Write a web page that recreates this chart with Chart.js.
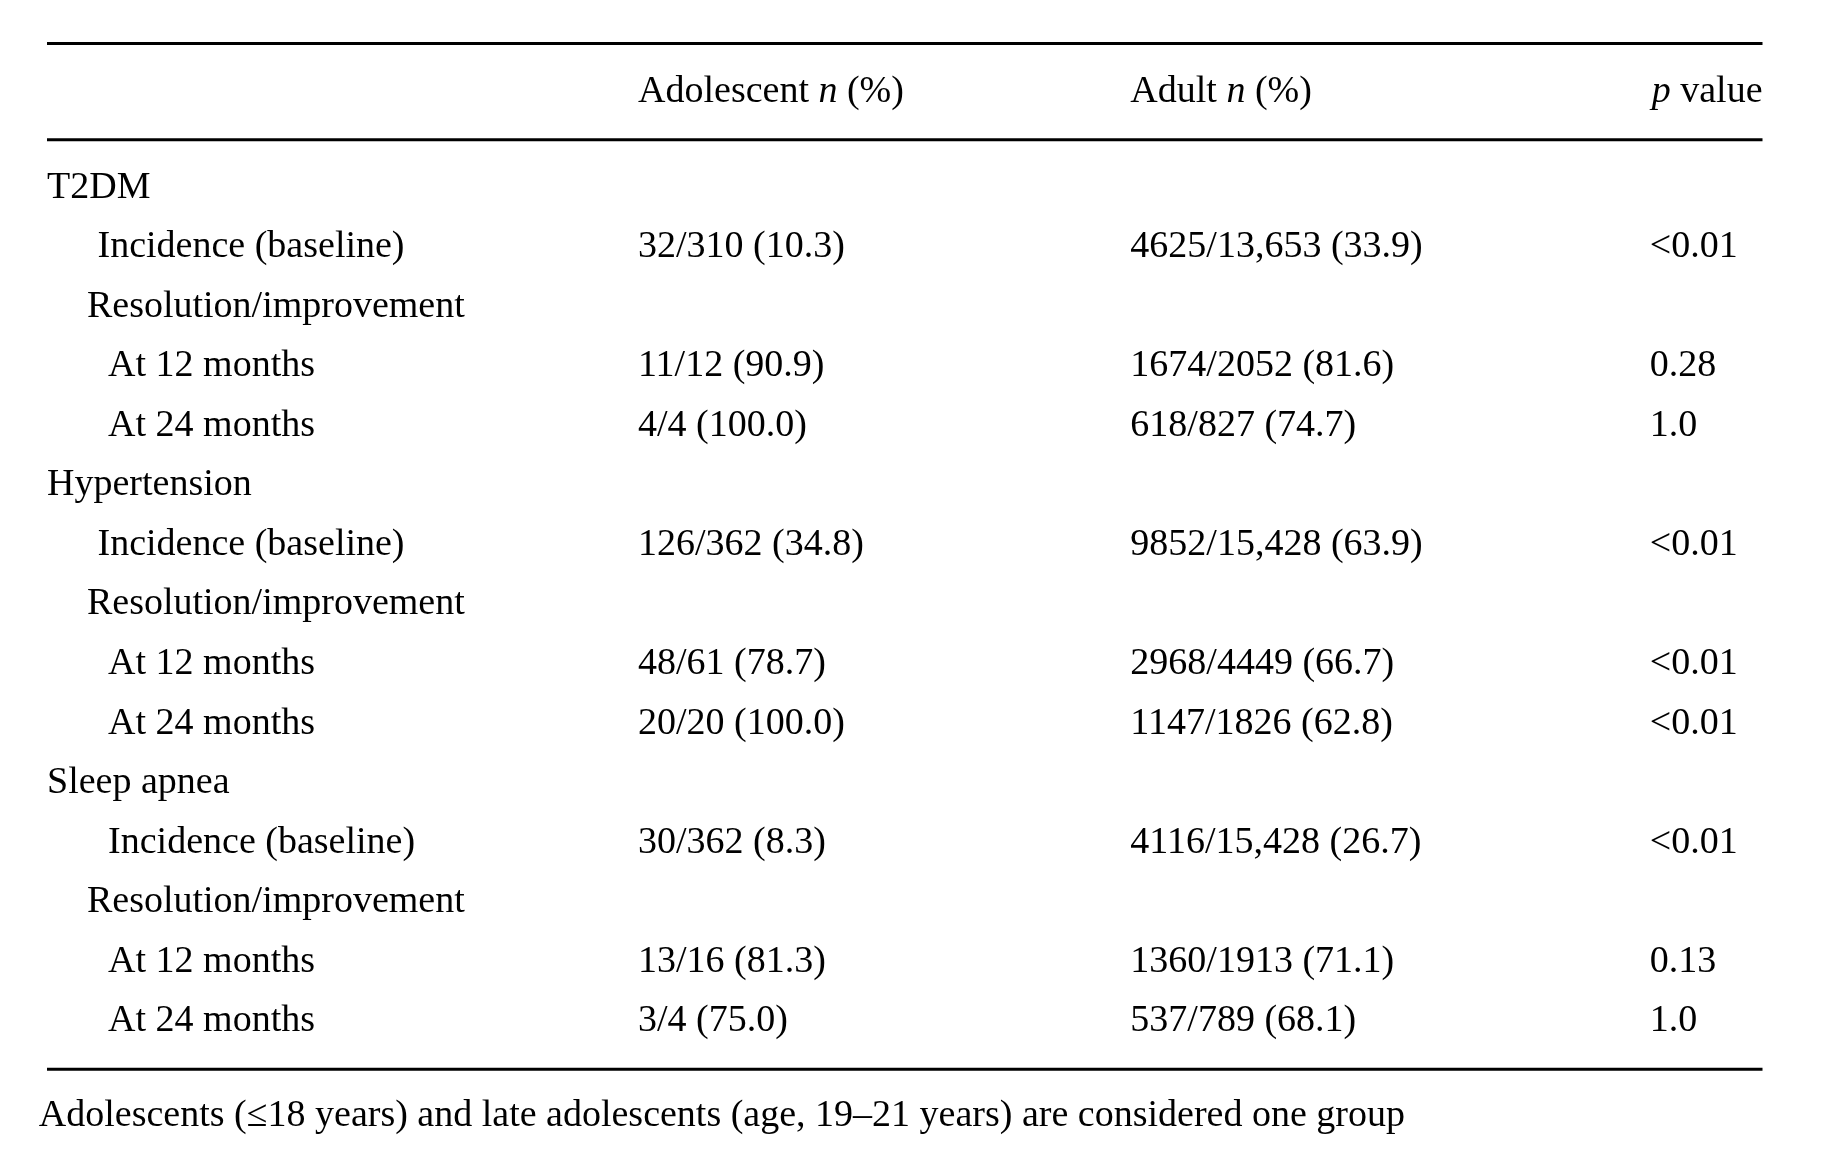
<!DOCTYPE html>
<html><head><meta charset="utf-8">
<script src="https://cdn.jsdelivr.net/npm/chart.js@4"></script>
<style>html,body{margin:0;padding:0;background:#fff;}#wrap{width:1842px;height:1168px;}</style>
</head><body><div id="wrap"><canvas id="c"></canvas></div>
<script>
const rowLabels = ["T2DM","Incidence (baseline)","Resolution/improvement","At 12 months","At 24 months","Hypertension","Incidence (baseline)","Resolution/improvement","At 12 months","At 24 months","Sleep apnea","Incidence (baseline)","Resolution/improvement","At 12 months","At 24 months"];
const rowLevels = [0,2,1,3,3,0,2,1,3,3,0,3,1,3,3];
const adolescent = ["","32/310 (10.3)","","11/12 (90.9)","4/4 (100.0)","","126/362 (34.8)","","48/61 (78.7)","20/20 (100.0)","","30/362 (8.3)","","13/16 (81.3)","3/4 (75.0)"];
const adult = ["","4625/13,653 (33.9)","","1674/2052 (81.6)","618/827 (74.7)","","9852/15,428 (63.9)","","2968/4449 (66.7)","1147/1826 (62.8)","","4116/15,428 (26.7)","","1360/1913 (71.1)","537/789 (68.1)"];
const pValues = ["","<0.01","","0.28","1.0","","<0.01","","<0.01","<0.01","","<0.01","","0.13","1.0"];
const footnote = "Adolescents (\u226418 years) and late adolescents (age, 19\u201321 years) are considered one group";

const S = 1.175;
const FONT = "38px 'Liberation Serif', 'Times New Roman', serif";
const IFONT = "italic 38px 'Liberation Serif', 'Times New Roman', serif";
const indents = [40*S, 74*S, 83*S, 92*S];
const colX = [543*S, 962*S, 1404*S];
const rowY0 = 160*S, rowStep = 50.64*S;

const tablePlugin = {
  id:'table',
  afterDraw(chart){
    const ctx = chart.ctx, xs = chart.scales.x, ys = chart.scales.y;
    const X = v=>xs.getPixelForValue(v), Y = v=>ys.getPixelForValue(v);
    ctx.save();
    ctx.fillStyle='#000'; ctx.strokeStyle='#000';
    const hline=(y,w)=>{ctx.lineWidth=w;ctx.beginPath();ctx.moveTo(X(40*S),Y(y));ctx.lineTo(X(1500*S),Y(y));ctx.stroke();};
    hline(37*S,3); hline(119*S,3); hline(910*S,3);
    ctx.textBaseline='middle';
    const seg=(parts,x,y)=>{let cx=X(x);for(const [t,it] of parts){ctx.font=it?IFONT:FONT;ctx.fillText(t,cx,Y(y));cx+=ctx.measureText(t).width;}};
    ctx.textAlign='left';
    seg([["Adolescent ",0],["n",1],[" (%)",0]],colX[0],78*S);
    seg([["Adult ",0],["n",1],[" (%)",0]],colX[1],78*S);
    ctx.font=FONT; const w1=ctx.measureText(" value").width; ctx.font=IFONT; const w0=ctx.measureText("p").width;
    seg([["p",1],[" value",0]],1500*S-(w0+w1),78*S);
    ctx.font=FONT;
    rowLabels.forEach((l,i)=>{
      const y=rowY0+i*rowStep;
      ctx.fillText(l,X(indents[rowLevels[i]]),Y(y));
      ctx.fillText(adolescent[i],X(colX[0]),Y(y));
      ctx.fillText(adult[i],X(colX[1]),Y(y));
      ctx.fillText(pValues[i],X(colX[2]),Y(y));
    });
    ctx.fillText(footnote,X(33*S),Y(950*S));
    ctx.restore();
  }
};

new Chart(document.getElementById('c'),{
  type:'scatter',
  data:{datasets:[{data:[]}]},
  options:{
    responsive:true, maintainAspectRatio:false, animation:false,
    layout:{padding:0},
    plugins:{legend:{display:false},tooltip:{enabled:false}},
    scales:{
      x:{type:'linear',min:0,max:1842,display:false},
      y:{type:'linear',min:0,max:1168,reverse:true,display:false}
    }
  },
  plugins:[tablePlugin]
});
</script></body></html>
